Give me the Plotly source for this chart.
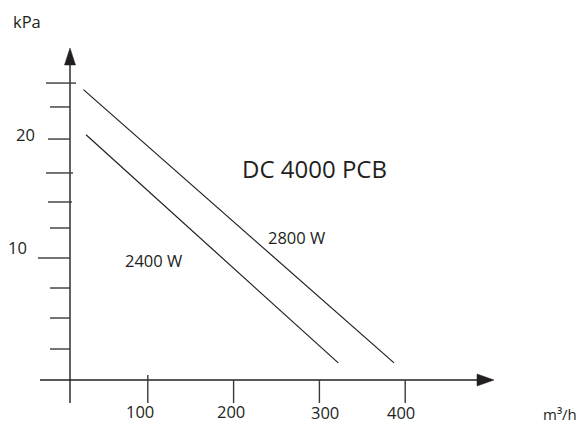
import plotly.graph_objects as go

# ---- data ----
flow_2800 = [25, 387]
press_2800 = [23.8, 1.4]
flow_2400 = [28, 322]
press_2400 = [20.1, 1.4]
series_names = ["2800 W", "2400 W"]

x_ticks = [100, 200, 300, 400]
x_tick_labels = ["100", "200", "300", "400"]
y_ticks = [2.54, 5.08, 7.54, 10.0, 12.46, 14.59, 16.97, 19.75, 22.38, 24.34]
y_label_values = [20, 10]
y_label_texts = ["20", "10"]
title_text = "DC 4000 PCB"
x_title = "m³/h"
y_title = "kPa"

# ---- pixel mapping (layout only) ----
W, H = 580, 425
X0PX, XS = 62.0, 0.858   # pixel of x=0, px per unit
Y0PX, YS = 380.0, 12.2   # pixel of y=0, px per unit

def dx(px):
    return (px - X0PX) / XS

def dy(py):
    return (Y0PX - py) / YS

INK = "#231f20"
TICK = "#3a3a3a"
FONT = "Open Sans, Noto Sans, sans-serif"
FS = 16.5

fig = go.Figure()

fig.add_trace(go.Scatter(x=flow_2800, y=press_2800, mode="lines",
                         line=dict(color=INK, width=1.2), name=series_names[0],
                         hoverinfo="skip"))
fig.add_trace(go.Scatter(x=flow_2400, y=press_2400, mode="lines",
                         line=dict(color=INK, width=1.2), name=series_names[1],
                         hoverinfo="skip"))

shapes = []
yaxis_x = dx(70)
# axes
shapes.append(dict(type="line", x0=yaxis_x, x1=yaxis_x, y0=dy(403), y1=dy(63),
                   line=dict(color=INK, width=1.4)))
shapes.append(dict(type="line", x0=dx(40), x1=dx(479), y0=0, y1=0,
                   line=dict(color=INK, width=1.4)))
# arrowheads
shapes.append(dict(type="path",
                   path=f"M {dx(64.5)},{dy(65)} L {dx(70)},{dy(48)} L {dx(75.5)},{dy(65)} Z",
                   fillcolor=INK, line=dict(color=INK, width=0.5)))
shapes.append(dict(type="path",
                   path=f"M {dx(477)},{dy(374)} L {dx(494)},{dy(380)} L {dx(477)},{dy(386)} Z",
                   fillcolor=INK, line=dict(color=INK, width=0.5)))
# x ticks
for i, t in enumerate(x_ticks):
    top = dy(375) if i == 0 else 0
    shapes.append(dict(type="line", x0=t, x1=t, y0=top, y1=dy(403),
                       line=dict(color=TICK, width=1.4)))
# y ticks (left pixel extents, right pixel extents)
tick_left = [50, 50, 50, 38, 50, 48, 46, 48, 50, 46]
tick_right = [70, 70, 70, 70, 70, 72, 73, 70, 70, 76]
for v, l, r in zip(y_ticks, tick_left, tick_right):
    shapes.append(dict(type="line", x0=dx(l), x1=dx(r), y0=v, y1=v,
                       line=dict(color=TICK, width=1.4)))

annotations = []
# x tick labels with small offsets (bottom of text box in px)
x_label_pos = [(-8, 424), (-3, 424), (6, 425), (-4, 425)]
for t, lab, (sx, bot) in zip(x_ticks, x_tick_labels, x_label_pos):
    annotations.append(dict(x=t, y=dy(bot), text=lab, showarrow=False, xshift=sx,
                            xanchor="center", yanchor="bottom", borderpad=0,
                            font=dict(family=FONT, size=FS, color=INK)))
# y labels
y_label_shift = [(-45, 2), (-53, 11)]
for v, lab, (sx, sy) in zip(y_label_values, y_label_texts, y_label_shift):
    annotations.append(dict(x=yaxis_x, y=v, text=lab, showarrow=False, xshift=sx, yshift=sy,
                            xanchor="center", yanchor="middle",
                            font=dict(family=FONT, size=FS, color=INK)))
# titles
annotations.append(dict(x=dx(27), y=dy(21), text=y_title, showarrow=False,
                        xanchor="center", yanchor="middle",
                        font=dict(family=FONT, size=FS, color=INK)))
annotations.append(dict(x=dx(578), y=dy(425), text=x_title, showarrow=False,
                        xanchor="right", yanchor="bottom", borderpad=0,
                        font=dict(family=FONT, size=15, color=INK)))
annotations.append(dict(x=dx(314), y=dy(168), text=title_text, showarrow=False,
                        xanchor="center", yanchor="middle",
                        font=dict(family=FONT, size=24, color=INK)))
annotations.append(dict(x=dx(296), y=dy(237), text=series_names[0], showarrow=False,
                        xanchor="center", yanchor="middle",
                        font=dict(family=FONT, size=FS, color=INK)))
annotations.append(dict(x=dx(153), y=dy(260), text=series_names[1], showarrow=False,
                        xanchor="center", yanchor="middle",
                        font=dict(family=FONT, size=FS, color=INK)))

fig.update_layout(
    width=W, height=H,
    margin=dict(l=0, r=0, t=0, b=0),
    paper_bgcolor="white", plot_bgcolor="white",
    showlegend=False,
    xaxis=dict(range=[dx(0), dx(W)], visible=False, fixedrange=True),
    yaxis=dict(range=[dy(H), dy(0)], visible=False, fixedrange=True),
    shapes=shapes, annotations=annotations,
)

fig.write_html("out.html", config={"displayModeBar": False})
